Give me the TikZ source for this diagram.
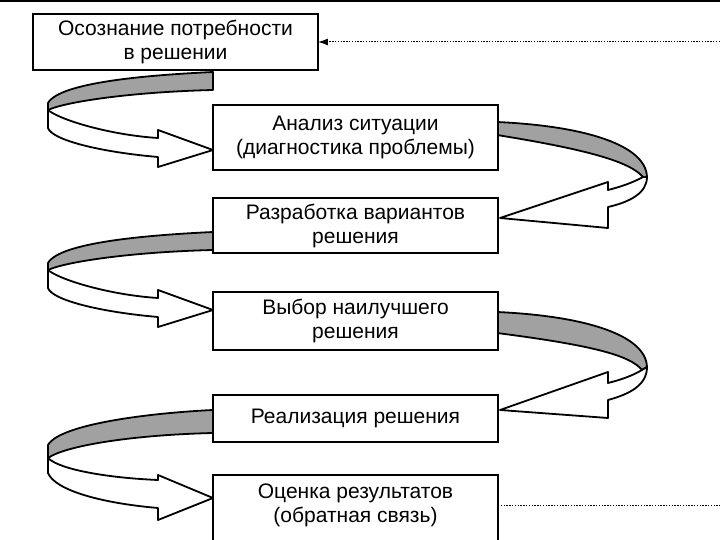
\documentclass[tikz,border=0pt]{standalone}
\usepackage{fontspec}
\setmainfont{Liberation Sans}
\usetikzlibrary{arrows.meta}
\begin{document}
\begin{tikzpicture}[x=0.5pt,y=-0.5pt,
  box/.style={draw=black, line width=1pt, fill=white, inner sep=0pt, outer sep=0pt,
    align=center, font=\fontsize{10.5}{12}\selectfont, minimum width=142.5pt},
  back/.style={draw=black, line width=0.9pt, fill=black!37, line join=round},
  front/.style={draw=black, line width=0.9pt, fill=white, line join=round},
  fb/.style={line width=0.5pt, dash pattern=on 0.7pt off 0.7pt},
  lbl/.style={align=center, font=\fontsize{10.5}{12}\selectfont, inner sep=0pt}
]
\useasboundingbox (0,0) rectangle (720,540);
\clip (0,0) rectangle (720,540);
\draw[line width=1.4pt] (0,1) -- (720,1);

% left ribbon 1
\draw[back] (213,72) .. controls (150,75) and (60,82) .. (48,103) -- (48,110)
  .. controls (65,102) and (130,92) .. (213,90) -- cycle;
\draw[front] (48,110) -- (48,128) .. controls (52,140) and (100,152) .. (158,157)
  -- (158,167) -- (213,150) -- (158,130) -- (158,138)
  .. controls (110,135) and (60,120) .. (48,110) -- cycle;
% left ribbon 2
\begin{scope}[shift={(0,160)}]
\draw[back] (213,72) .. controls (150,75) and (60,82) .. (48,103) -- (48,110)
  .. controls (65,102) and (130,92) .. (213,90) -- cycle;
\draw[front] (48,110) -- (48,128) .. controls (52,140) and (100,152) .. (158,157)
  -- (158,167) -- (213,150) -- (158,130) -- (158,138)
  .. controls (110,135) and (60,120) .. (48,110) -- cycle;
\end{scope}
% left ribbon 3
\draw[back] (213,410) .. controls (150,413) and (60,424) .. (48,445) -- (48,458)
  .. controls (65,446) and (130,435) .. (213,433) -- cycle;
\draw[front] (48,458) -- (48,473) .. controls (55,490) and (100,503) .. (158,508)
  -- (158,520) -- (213,498) -- (158,475) -- (158,480)
  .. controls (110,478) and (60,470) .. (48,458) -- cycle;
% right ribbon 1
\draw[back] (497,122) .. controls (585,126) and (646,145) .. (647,177) -- (643,177)
  .. controls (630,162) and (590,150) .. (497,135) -- cycle;
\draw[front] (643,177) .. controls (632,183) and (620,187) .. (608,190) -- (608,182)
  -- (500,218) -- (608,228) -- (608,207) .. controls (630,202) and (647,193) .. (647,177) -- cycle;
% right ribbon 2
\draw[back] (497,312) .. controls (585,316) and (646,335) .. (647,367) -- (642,370)
  .. controls (630,355) and (590,345) .. (497,333) -- cycle;
\draw[front] (642,370) .. controls (632,376) and (620,380) .. (608,383) -- (608,372)
  -- (500,410) -- (608,418) -- (608,400) .. controls (630,394) and (647,385) .. (647,367) -- cycle;

% boxes
\node[box, minimum height=28pt] (b1) at (175.5,42) {Осознание потребности\\в решении};
\node[box, minimum height=32.5pt] (b2) at (355.5,137.5) {Анализ ситуации\\(диагностика проблемы)};
\node[box, minimum height=27.5pt] (b3) at (355.5,225.5) {Разработка вариантов\\решения};
\node[box, minimum height=29pt] (b4) at (355.5,321) {Выбор наилучшего\\решения};
\node[box, minimum height=23.5pt] (b5) at (355.5,418.5) {Реализация решения};
\node[box, minimum height=42.5pt] (b6) at (355.5,517.5) {};
\node[lbl] (t6) at (355.5,505) {Оценка результатов\\(обратная связь)};

% feedback dotted lines
\coordinate (fin) at (720,42);
\coordinate (fout) at (720,506);
\draw[fb, -{Latex[length=5pt,width=3.5pt]}] (fin) -- (b1.east);
\draw[fb] (b6.east |- fout) -- (fout);
\end{tikzpicture}
\end{document}
